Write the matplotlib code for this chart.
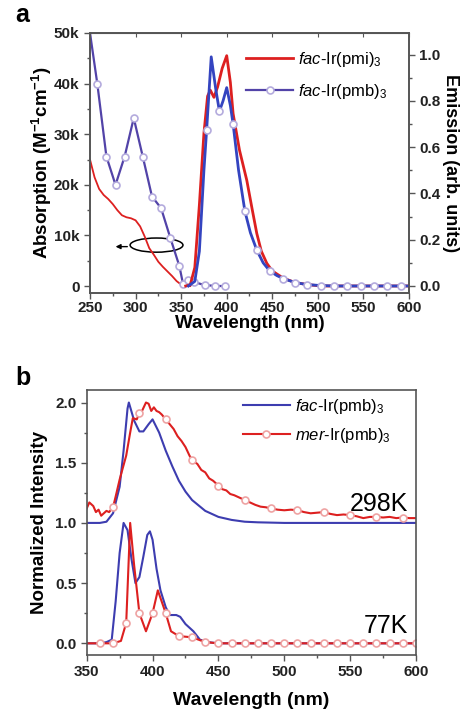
import numpy as np
import matplotlib
matplotlib.use("Agg")
import matplotlib.pyplot as plt
from matplotlib.patches import Ellipse
from matplotlib.ticker import MultipleLocator, FuncFormatter

plt.rcParams["font.family"] = ["Liberation Sans", "DejaVu Sans"]
plt.rcParams["font.weight"] = "bold"
plt.rcParams["axes.labelweight"] = "bold"
plt.rcParams["mathtext.fontset"] = "custom"
plt.rcParams["mathtext.rm"] = "Liberation Sans:weight=normal"
plt.rcParams["mathtext.it"] = "Liberation Sans:style=italic:weight=normal"
plt.rcParams["mathtext.bf"] = "Liberation Sans:weight=bold"

# =========================
# Panel a: absorption (left axis, M^-1 cm^-1)
# =========================
abs_pmi_wl = [250, 255, 260, 265, 270, 275, 280, 285, 290, 295, 300, 305, 310,
              315, 320, 325, 330, 335, 340, 345, 350, 355, 360]
abs_pmi = [25000, 21500, 19200, 18000, 17200, 16200, 15000, 14000, 13600, 13400,
           13000, 11800, 9800, 7500, 6200, 4800, 3800, 2900, 2000, 1000, 300, 0, 0]

abs_pmb_wl = [250, 258, 268, 278, 288, 298, 308, 318, 328, 338, 348, 352, 358,
              364, 376, 387, 398]
abs_pmb = [50000, 40000, 25600, 20000, 25600, 33200, 25500, 17700, 15400, 9600,
           4000, 500, 1200, 800, 200, 50, 0]

# Panel a: emission (right axis, arb. units)
em_pmi_wl = [355, 360, 365, 370, 375, 379, 382, 386, 390, 395, 400, 404, 407,
             414, 422, 428, 433, 438, 444, 450, 462, 475, 490, 505, 550, 600]
em_pmi = [0.0, 0.005, 0.08, 0.35, 0.66, 0.82, 0.846, 0.815, 0.86, 0.94, 0.995,
          0.88, 0.745, 0.587, 0.457, 0.33, 0.227, 0.15, 0.098, 0.065, 0.034,
          0.015, 0.005, 0.0, 0.0, 0.0]

em_pmb_wl = [358, 365, 370, 375, 378, 383, 388, 392, 396, 400, 404, 407, 413,
             420, 426, 433, 440, 447, 455, 462, 475, 488, 503, 518, 532, 547,
             562, 576, 591, 600]
em_pmb = [0.0, 0.02, 0.15, 0.5, 0.676, 0.99, 0.85, 0.755, 0.80, 0.857, 0.78,
          0.70, 0.50, 0.322, 0.23, 0.155, 0.10, 0.066, 0.045, 0.032, 0.015,
          0.006, 0.002, 0.0, 0.0, 0.0, 0.0, 0.0, 0.0, 0.0]
em_pmb_marks = [378, 392, 407, 420, 433, 447, 462, 475, 488, 503, 518, 532,
                547, 562, 576, 591]

# =========================
# Panel b: normalized emission, 298K (offset +1) and 77K
# =========================
fac_298_wl = [350, 360, 365, 370, 375, 378, 381, 382, 386, 390, 393, 397, 400,
              405, 410, 415, 420, 425, 430, 440, 450, 460, 470, 480, 500, 600]
fac_298 = [1.0, 1.0, 1.01, 1.08, 1.3, 1.6, 1.95, 2.0, 1.85, 1.76, 1.76, 1.82,
           1.86, 1.75, 1.6, 1.47, 1.35, 1.26, 1.19, 1.1, 1.05, 1.025, 1.01,
           1.005, 1.0, 1.0]

mer_298_wl = [350, 352, 355, 357, 359, 361, 363, 365, 367, 370, 372, 375, 378,
              380, 383, 385, 388, 390, 392, 395, 397, 399, 401, 403, 405, 407,
              410, 413, 416, 419, 422, 425, 428, 430, 434, 437, 440, 443, 446,
              450, 453, 456, 459, 462, 466, 470, 474, 478, 482, 486, 490, 495,
              500, 505, 510, 515, 520, 525, 530, 535, 540, 545, 550, 555, 560,
              565, 570, 575, 580, 585, 590, 595, 600]
mer_298 = [1.12, 1.17, 1.14, 1.09, 1.11, 1.06, 1.08, 1.10, 1.09, 1.13, 1.22,
           1.36, 1.48, 1.56, 1.75, 1.87, 1.86, 1.91, 1.93, 2.0, 1.99, 1.93,
           1.96, 1.93, 1.92, 1.90, 1.86, 1.82, 1.78, 1.72, 1.68, 1.63, 1.56,
           1.52, 1.49, 1.44, 1.42, 1.37, 1.35, 1.31, 1.28, 1.27, 1.24, 1.23,
           1.21, 1.19, 1.17, 1.15, 1.135, 1.13, 1.12, 1.11, 1.105, 1.11, 1.106,
           1.09, 1.08, 1.085, 1.09, 1.075, 1.065, 1.07, 1.065, 1.055, 1.04,
           1.05, 1.05, 1.045, 1.05, 1.04, 1.045, 1.04, 1.04]
mer_298_marks = [370, 390, 410, 430, 450, 470, 490, 510, 530, 550, 570, 590]

fac_77_wl = [350, 360, 365, 369, 372, 375, 378, 381, 384, 387, 390, 393, 396,
             398, 400, 403, 406, 410, 413, 418, 421, 425, 431, 436, 442, 450,
             600]
fac_77 = [0.0, 0.0, 0.01, 0.03, 0.35, 0.75, 1.0, 0.94, 0.7, 0.5, 0.55, 0.72,
          0.9, 0.93, 0.86, 0.62, 0.44, 0.3, 0.235, 0.235, 0.22, 0.16, 0.1,
          0.03, 0.01, 0.0, 0.0]

mer_77_wl = [350, 360, 370, 376, 380, 383, 386, 390, 395, 400, 404, 410, 414,
             420, 430, 440, 450, 460, 470, 480, 490, 500, 510, 520, 530, 540,
             550, 560, 570, 580, 590, 600]
mer_77 = [0.0, 0.0, 0.0, 0.02, 0.17, 1.0, 0.65, 0.25, 0.1, 0.25, 0.44, 0.25,
          0.1, 0.06, 0.05, 0.01, 0.0, 0.0, 0.0, 0.0, 0.0, 0.0, 0.0, 0.0, 0.0,
          0.0, 0.0, 0.0, 0.0, 0.0, 0.0, 0.0]
mer_77_marks = list(range(360, 601, 10))

# =========================
# Style
# =========================
RED = "#dd2020"
PURPLE = "#5243a8"
BLUE = "#3444c0"
BLUE_B = "#3d3db0"
SPINE = "#555555"
PMB_EDGE = "#b4abdd"
MER_EDGE = "#eea3a3"
LEG_FONT = {"size": 12, "weight": "normal"}


def mark_idx(wl, marks):
    return list(np.nonzero(np.isin(wl, marks))[0])


def style_axes(ax):
    for s in ax.spines.values():
        s.set_color(SPINE)
        s.set_linewidth(1.2)
    ax.tick_params(which="both", direction="out", color=SPINE, width=1.0,
                   labelsize=11, labelcolor="#222222")
    ax.tick_params(which="major", length=4)
    ax.tick_params(which="minor", length=2.5)


fig = plt.figure(figsize=(4.64, 7.13), dpi=100)

# ---------- panel a ----------
ax = fig.add_axes([90 / 464, 1 - 292.7 / 713, 319 / 464, 259.7 / 713])
ax2 = ax.twinx()

ax.plot(abs_pmi_wl, abs_pmi, color=RED, lw=1.3)
ax.plot(abs_pmb_wl, abs_pmb, color=PURPLE, lw=1.6, marker="o", ms=5,
        mfc="white", mec=PMB_EDGE, mew=1.2,
        markevery=list(range(1, len(abs_pmb_wl))))

l1, = ax2.plot(em_pmi_wl, em_pmi, color=RED, lw=2.0,
               label=r"$\mathit{fac}$-Ir(pmi)$_\mathrm{3}$")
ax2.plot(em_pmb_wl, em_pmb, color=BLUE, lw=2.0, marker="o", ms=5,
         mfc="white", mec=PMB_EDGE, mew=1.2,
         markevery=mark_idx(em_pmb_wl, em_pmb_marks))
l2, = ax2.plot([], [], color=PURPLE, lw=1.6, marker="o", ms=5, mfc="white",
               mec=PMB_EDGE, mew=1.2,
               label=r"$\mathit{fac}$-Ir(pmb)$_\mathrm{3}$")

ax.add_patch(Ellipse((323, 8100), 58, 2800, fill=False, ec="black", lw=1.1))
ax.annotate("", xy=(275, 7800), xytext=(294, 7800),
            arrowprops=dict(arrowstyle="-|>", color="black", lw=1.0,
                            mutation_scale=7))

ax.set_xlim(250, 600)
ax.set_ylim(-1300, 50000)
ax2.set_ylim(-0.029, 1.093)
ax.xaxis.set_major_locator(MultipleLocator(50))
ax.xaxis.set_minor_locator(MultipleLocator(25))
ax.yaxis.set_major_locator(MultipleLocator(10000))
ax.yaxis.set_minor_locator(MultipleLocator(5000))
ax.yaxis.set_major_formatter(FuncFormatter(
    lambda v, p: "0" if v == 0 else "%dk" % round(v / 1000)))
ax2.yaxis.set_major_locator(MultipleLocator(0.2))
ax2.yaxis.set_minor_locator(MultipleLocator(0.1))
ax2.yaxis.set_major_formatter(FuncFormatter(lambda v, p: "%.1f" % v))

style_axes(ax)
style_axes(ax2)
ax.tick_params(axis="x", pad=2)
top = ax.secondary_xaxis("top")
top.xaxis.set_major_locator(MultipleLocator(50))
top.tick_params(direction="in", length=3, color=SPINE, labeltop=False)
top.spines["top"].set_color(SPINE)

ax.set_xlabel("Wavelength (nm)", fontsize=13.5, labelpad=0)
ax.set_ylabel(r"Absorption (M$^\mathbf{-1}$cm$^\mathbf{-1}$)", fontsize=13.5,
              labelpad=0)
ax2.set_ylabel("Emission (arb. units)", fontsize=13, rotation=270,
               labelpad=13)

ax2.legend(handles=[l1, l2], loc="upper left", bbox_to_anchor=(0.49, 0.935),
           frameon=False, prop=LEG_FONT, handlelength=2.8, handletextpad=0.3,
           borderpad=0, borderaxespad=0, labelspacing=0.8)

fig.text(15 / 464, 1 - 15 / 713, "a", fontsize=18, va="center", ha="left")

# ---------- panel b ----------
bx = fig.add_axes([86.7 / 464, 1 - 655 / 713, 329.3 / 464, 265 / 713])
b1, = bx.plot(fac_298_wl, fac_298, color=BLUE_B, lw=1.5,
              label=r"$\mathit{fac}$-Ir(pmb)$_\mathrm{3}$")
b2, = bx.plot(mer_298_wl, mer_298, color=RED, lw=1.5, marker="o", ms=5,
              mfc="white", mec=MER_EDGE, mew=1.2,
              markevery=mark_idx(mer_298_wl, mer_298_marks),
              label=r"$\mathit{mer}$-Ir(pmb)$_\mathrm{3}$")
bx.plot(fac_77_wl, fac_77, color=BLUE_B, lw=1.5)
bx.plot(mer_77_wl, mer_77, color=RED, lw=1.5, marker="o", ms=5, mfc="white",
        mec=MER_EDGE, mew=1.2, markevery=mark_idx(mer_77_wl, mer_77_marks))

bx.set_xlim(350, 600)
bx.set_ylim(-0.097, 2.104)
bx.xaxis.set_major_locator(MultipleLocator(50))
bx.xaxis.set_minor_locator(MultipleLocator(25))
bx.yaxis.set_major_locator(MultipleLocator(0.5))
bx.yaxis.set_minor_locator(MultipleLocator(0.25))
bx.yaxis.set_major_formatter(FuncFormatter(lambda v, p: "%.1f" % v))
style_axes(bx)

bx.set_xlabel("Wavelength (nm)", fontsize=14, labelpad=9)
bx.set_ylabel("Normalized Intensity", fontsize=13.5, labelpad=5)

bx.text(0.975, 0.57, "298K", transform=bx.transAxes, fontsize=18,
        fontweight="normal", ha="right", va="center")
bx.text(0.975, 0.11, "77K", transform=bx.transAxes, fontsize=18,
        fontweight="normal", ha="right", va="center")

bx.legend(handles=[b1, b2], loc="upper left", bbox_to_anchor=(0.475, 0.975),
          frameon=False, prop=LEG_FONT, handlelength=2.8, handletextpad=0.3,
          borderpad=0, borderaxespad=0, labelspacing=0.6)

fig.text(15 / 464, 1 - 378 / 713, "b", fontsize=18, va="center", ha="left")

fig.savefig("out.png", dpi=100)
